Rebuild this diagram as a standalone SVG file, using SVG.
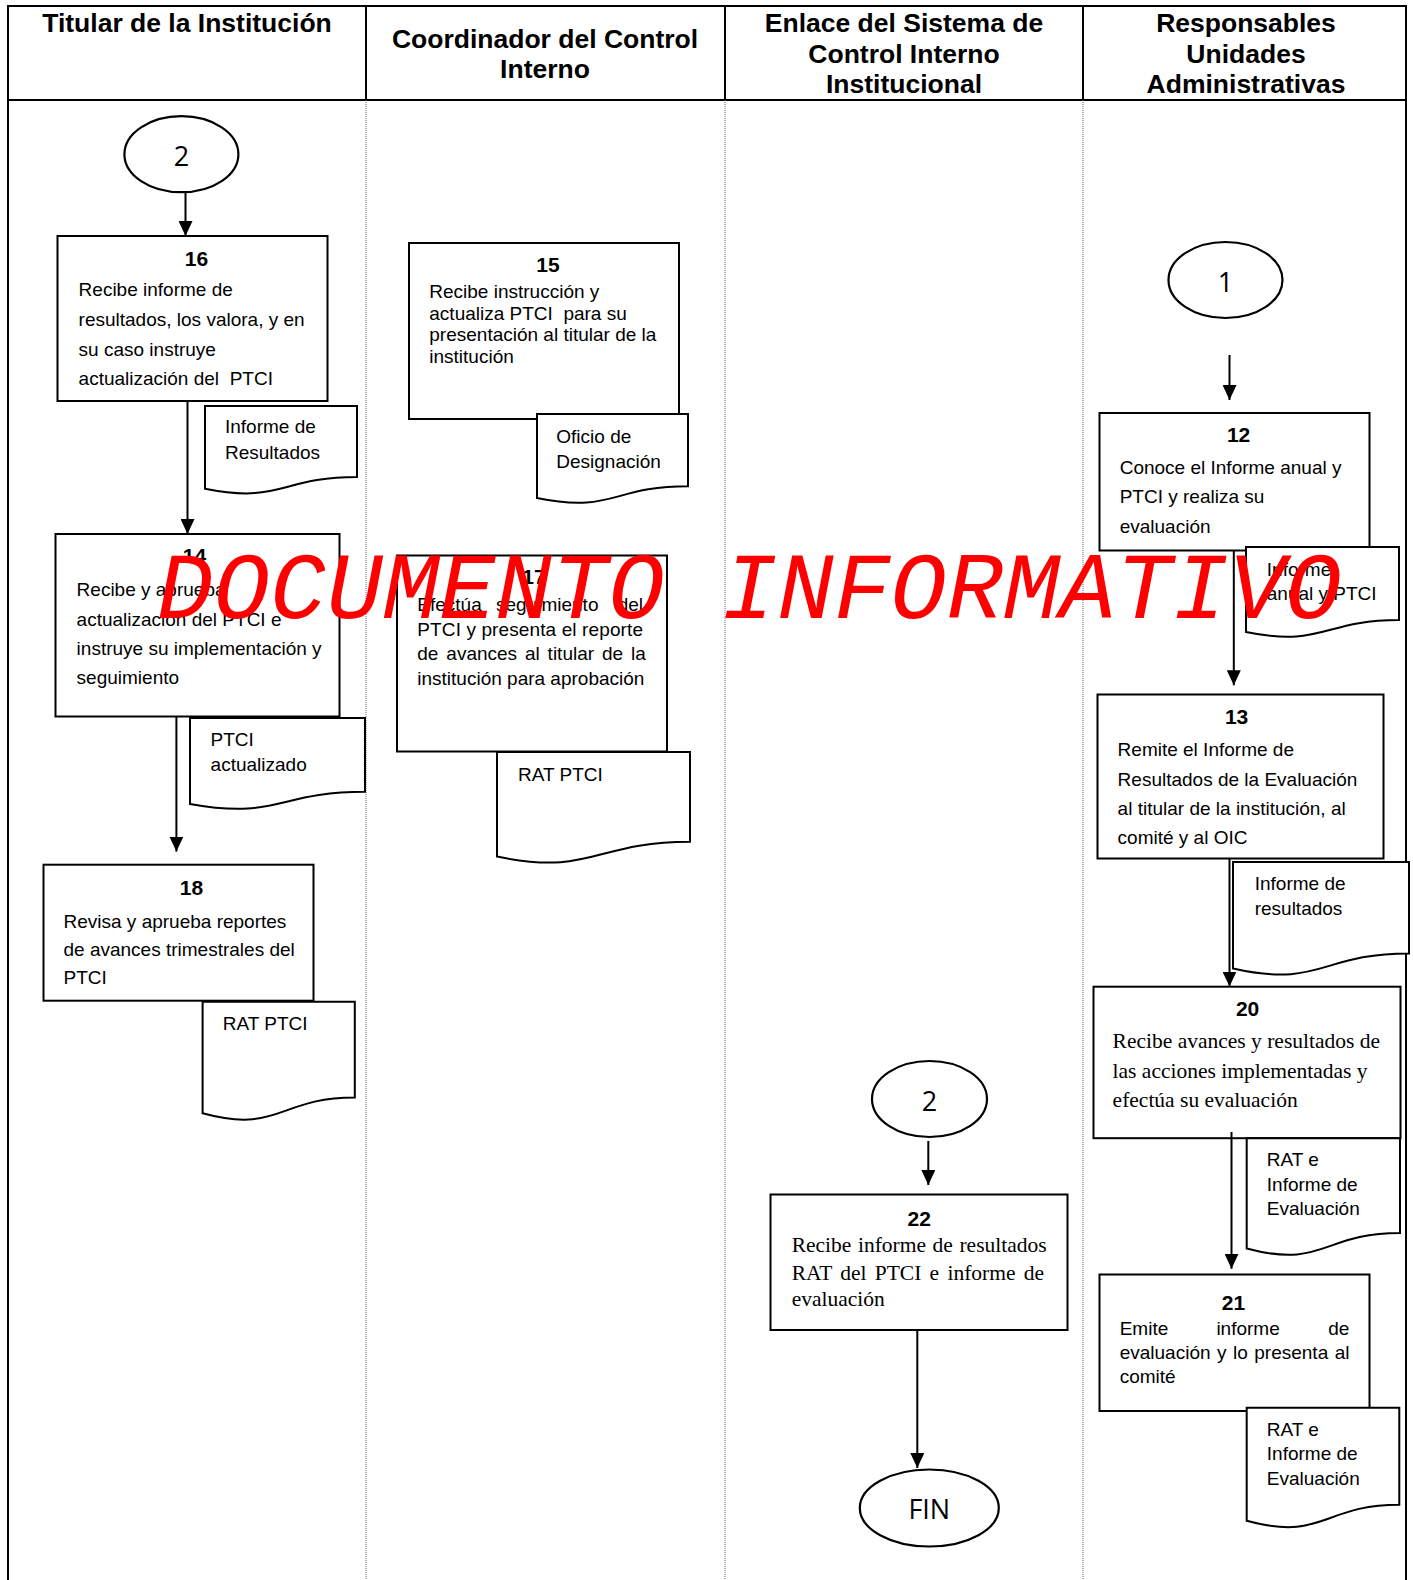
<svg xmlns="http://www.w3.org/2000/svg" width="1413" height="1580" viewBox="0 0 1413 1580">
<defs>
<marker id="ah" markerUnits="userSpaceOnUse" markerWidth="15" markerHeight="14" viewBox="0 0 15 14" refX="15" refY="7" orient="auto">
<path d="M0,0 L15,7 L0,14 Z" fill="#000"/>
</marker>
</defs>
<style>
.box{fill:#fff;stroke:#000;stroke-width:2}
.doc{fill:#fff;stroke:#000;stroke-width:2}
.ell{fill:#fff;stroke:#000;stroke-width:2.2}
.con{fill:none;stroke:#000;stroke-width:2;marker-end:url(#ah)}
.frame{stroke:#000;stroke-width:2;fill:none}
.dot{stroke:#666;stroke-width:1;stroke-dasharray:1 1;fill:none}
.h{font-family:"Liberation Sans",Arial,sans-serif;font-weight:bold;font-size:26.5px;text-anchor:middle;fill:#000}
.t{font-family:"Liberation Sans",Arial,sans-serif;font-size:19px;fill:#000}
.n{font-family:"Liberation Sans",Arial,sans-serif;font-weight:bold;font-size:21px;text-anchor:middle;fill:#000}
.s{font-family:"Liberation Serif","Times New Roman",serif;font-size:21.5px;fill:#000}
.c{font-family:"Open Sans","Noto Sans",sans-serif;font-size:27px;text-anchor:middle;fill:#000}
.e{text-anchor:end}
.w{font-family:"Liberation Mono","Courier New",monospace;font-style:italic;font-size:94px;fill:#ff0000}
</style>

<g id="lanes">
<line class="frame" x1="7" y1="6" x2="1407" y2="6"/>
<line class="frame" x1="7" y1="100" x2="1407" y2="100"/>
<line class="frame" x1="8" y1="5" x2="8" y2="1580"/>
<line class="frame" x1="1406" y1="5" x2="1406" y2="1580"/>
<line class="frame" x1="366" y1="6" x2="366" y2="100"/>
<line class="frame" x1="725" y1="6" x2="725" y2="100"/>
<line class="frame" x1="1083" y1="6" x2="1083" y2="100"/>
<line class="dot" x1="366" y1="100" x2="366" y2="1580"/>
<line class="dot" x1="725" y1="100" x2="725" y2="1580"/>
<line class="dot" x1="1083" y1="100" x2="1083" y2="1580"/>
<text class="h" x="187" y="31.5">Titular de la Institución</text>
<text class="h" x="545" y="47.5">Coordinador del Control</text>
<text class="h" x="545" y="78">Interno</text>
<text class="h" x="904" y="31.5">Enlace del Sistema de</text>
<text class="h" x="904" y="62.5">Control Interno</text>
<text class="h" x="904" y="93">Institucional</text>
<text class="h" x="1246" y="31.5">Responsables</text>
<text class="h" x="1246" y="62.5">Unidades</text>
<text class="h" x="1246" y="93">Administrativas</text>
</g>

<g id="start2a">
<ellipse class="ell" cx="181.4" cy="154.2" rx="57" ry="38"/>
<text class="c" x="181.4" y="166">2</text>
</g>

<g id="n16">
<rect class="box" x="57.5" y="236" width="270" height="165"/>
<text class="n" x="196.5" y="266">16</text>
<text class="t" x="78.6" y="296">Recibe informe de</text>
<text class="t" x="78.6" y="326">resultados, los valora, y en</text>
<text class="t" x="78.6" y="356">su caso instruye</text>
<text class="t" x="78.6" y="385" xml:space="preserve">actualización del  PTCI</text>
</g>
<g id="d16">
<path class="doc" d="M205,406 H357 V477 C281,477 281,504 205,488.7 Z"/>
<text class="t" x="225" y="433">Informe de</text>
<text class="t" x="225" y="459">Resultados</text>
</g>

<g id="n14">
<rect class="box" x="55.5" y="534" width="284" height="182.5"/>
<text class="n" x="194.5" y="563">14</text>
<text class="t" x="76.6" y="596">Recibe y aprueba</text>
<text class="t" x="76.6" y="625.5">actualización del PTCI e</text>
<text class="t" x="76.6" y="654.5">instruye su implementación y</text>
<text class="t" x="76.6" y="683.5">seguimiento</text>
</g>
<g id="d14">
<path class="doc" d="M190,718 H365 V791.8 C277.5,791.8 277.5,819.9 190,803.9 Z"/>
<text class="t" x="210.6" y="745.5">PTCI</text>
<text class="t" x="210.6" y="770.5">actualizado</text>
</g>

<g id="n18">
<rect class="box" x="43.5" y="864.7" width="270" height="136"/>
<text class="n" x="191.5" y="895">18</text>
<text class="t" x="63.5" y="927.5">Revisa y aprueba reportes</text>
<text class="t" x="63.5" y="956">de avances trimestrales del</text>
<text class="t" x="63.5" y="984">PTCI</text>
</g>
<g id="d18">
<path class="doc" d="M202.6,1001.7 H354.8 V1097.5 C278.7,1097.5 278.7,1134 202.6,1113.3 Z"/>
<text class="t" x="222.7" y="1029.5">RAT PTCI</text>
</g>

<g id="n15">
<rect class="box" x="409" y="243" width="270" height="176"/>
<text class="n" x="548" y="272">15</text>
<text class="t" x="429.3" y="297.5">Recibe instrucción y</text>
<text class="t" x="429.3" y="320" xml:space="preserve">actualiza PTCI  para su</text>
<text class="t" x="429.3" y="341">presentación al titular de la</text>
<text class="t" x="429.3" y="363">institución</text>
</g>
<g id="d15">
<path class="doc" d="M537,414 H688 V486.2 C612.5,486.2 612.5,513.7 537,498.1 Z"/>
<text class="t" x="556.3" y="443">Oficio de</text>
<text class="t" x="556.3" y="468">Designación</text>
</g>

<g id="n17">
<rect class="box" x="397" y="555.5" width="270" height="196"/>
<text class="n" x="534" y="584">17</text>
<text class="t" x="417.3" y="611">Efectúa</text>
<text class="t" x="496" y="611">seguimiento</text>
<text class="t e" x="643" y="611">del</text>
<text class="t" x="417.3" y="635.5" textLength="225.7" lengthAdjust="spacing">PTCI y presenta el reporte</text>
<text class="t" x="417.3" y="659.5" word-spacing="2.6">de avances al titular de la</text>
<text class="t" x="417.3" y="684.5">institución para aprobación</text>
</g>
<g id="d17">
<path class="doc" d="M497,752 H690 V841.8 C593.5,841.8 593.5,876 497,856.6 Z"/>
<text class="t" x="518" y="780.5">RAT PTCI</text>
</g>

<g id="start1">
<ellipse class="ell" cx="1225.5" cy="280" rx="57" ry="38"/>
<text class="c" x="1225.5" y="292">1</text>
</g>

<g id="n12">
<rect class="box" x="1099.5" y="413" width="270" height="137.5"/>
<text class="n" x="1238.6" y="442">12</text>
<text class="t" x="1119.7" y="474">Conoce el Informe anual y</text>
<text class="t" x="1119.7" y="503.3">PTCI y realiza su</text>
<text class="t" x="1119.7" y="532.5">evaluación</text>
</g>
<g id="d12">
<path class="doc" d="M1246,547 H1399 V620 C1322.5,620 1322.5,647.8 1246,632 Z"/>
<text class="t" x="1266.8" y="576">Informe</text>
<text class="t" x="1266.8" y="600">anual y PTCI</text>
</g>

<g id="n13">
<rect class="box" x="1097.5" y="694.5" width="286" height="164"/>
<text class="n" x="1236.6" y="724">13</text>
<text class="t" x="1117.6" y="756.3">Remite el Informe de</text>
<text class="t" x="1117.6" y="785.5">Resultados de la Evaluación</text>
<text class="t" x="1117.6" y="814.8">al titular de la institución, al</text>
<text class="t" x="1117.6" y="844">comité y al OIC</text>
</g>
<g id="d13">
<path class="doc" d="M1233,862 H1409 V953.4 C1321,953.4 1321,988.3 1233,968.5 Z"/>
<text class="t" x="1254.7" y="890.3">Informe de</text>
<text class="t" x="1254.7" y="914.5">resultados</text>
</g>

<g id="n20">
<rect class="box" x="1093.5" y="986.7" width="307" height="151.5"/>
<text class="n" x="1247.6" y="1015.5">20</text>
<text class="s" x="1112.6" y="1048">Recibe avances y resultados de</text>
<text class="s" x="1112.6" y="1078">las acciones implementadas y</text>
<text class="s" x="1112.6" y="1107">efectúa su evaluación</text>
</g>
<g id="d20">
<path class="doc" d="M1246.7,1138.3 H1400 V1232.9 C1323.3,1232.9 1323.3,1269 1246.7,1248.5 Z"/>
<text class="t" x="1266.8" y="1165.5">RAT e</text>
<text class="t" x="1266.8" y="1190.5">Informe de</text>
<text class="t" x="1266.8" y="1215">Evaluación</text>
</g>

<g id="n21">
<rect class="box" x="1099.5" y="1274.5" width="270" height="136.5"/>
<text class="n" x="1233.5" y="1310">21</text>
<text class="t" x="1119.7" y="1335">Emite</text>
<text class="t" x="1216.4" y="1335">informe</text>
<text class="t e" x="1349.4" y="1335">de</text>
<text class="t" x="1119.7" y="1359" word-spacing="1.2">evaluación y lo presenta al</text>
<text class="t" x="1119.7" y="1383">comité</text>
</g>
<g id="d21">
<path class="doc" d="M1246.7,1407.7 H1399.3 V1504.7 C1323,1504.7 1323,1541.7 1246.7,1520.7 Z"/>
<text class="t" x="1266.8" y="1435.5">RAT e</text>
<text class="t" x="1266.8" y="1459.8">Informe de</text>
<text class="t" x="1266.8" y="1485">Evaluación</text>
</g>

<g id="start2b">
<ellipse class="ell" cx="929.5" cy="1099" rx="57.5" ry="38"/>
<text class="c" x="929.5" y="1111">2</text>
</g>

<g id="n22">
<rect class="box" x="770.5" y="1194.5" width="297" height="135.5"/>
<text class="n" x="919.3" y="1226">22</text>
<text class="s" x="791.7" y="1252" word-spacing="1.2">Recibe informe de resultados</text>
<text class="s" x="791.7" y="1279.5" word-spacing="2.9">RAT del PTCI e informe de</text>
<text class="s" x="791.7" y="1306">evaluación</text>
</g>

<g id="fin">
<ellipse class="ell" cx="929.3" cy="1508" rx="69.5" ry="38.5"/>
<text class="c" x="929.3" y="1519">FIN</text>
</g>

<g id="connectors">
<line class="con" x1="185.5" y1="192" x2="185.5" y2="236"/>
<line class="con" x1="187.5" y1="401" x2="187.5" y2="534"/>
<line class="con" x1="176.4" y1="716.5" x2="176.4" y2="851.6"/>
<line class="con" x1="1229.5" y1="355" x2="1229.5" y2="400"/>
<line class="con" x1="1233.8" y1="550.5" x2="1233.8" y2="685.3"/>
<line class="con" x1="1229.5" y1="858.6" x2="1229.5" y2="986.6"/>
<line class="con" x1="1231.5" y1="1132" x2="1231.5" y2="1268.8"/>
<line class="con" x1="928.3" y1="1141" x2="928.3" y2="1185"/>
<line class="con" x1="917.3" y1="1330" x2="917.3" y2="1468"/>
</g>

<g id="watermark">
<text class="w" x="157" y="618">DOCUMENTO INFORMATIVO</text>
</g>
</svg>
